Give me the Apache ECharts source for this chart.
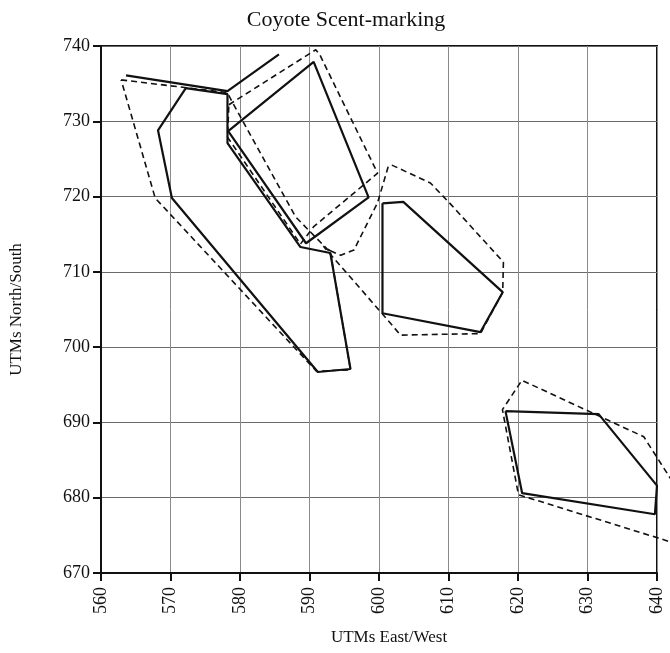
<!DOCTYPE html>
<html>
<head>
<meta charset="utf-8">
<script src="https://cdn.jsdelivr.net/npm/echarts@6/dist/echarts.min.js"></script>
<style>
html,body{margin:0;padding:0;background:#fff;}
#chart{width:670px;height:653px;}
</style>
</head>
<body>
<div id="chart"></div>
<script>
// Axis ticks
const xTicks = [560, 570, 580, 590, 600, 610, 620, 630, 640];
const yTicks = [670, 680, 690, 700, 710, 720, 730, 740];

// Solid home-range outlines (UTM East, UTM North)
const solidTrack = [[563.6,736.1],[578.2,734.0],[585.6,738.9]];
const solidA = [[572.2,734.4],[578.2,733.6],[578.2,727.1],[588.7,713.3],[593.0,712.5],[595.9,697.1],[591.2,696.7],[570.2,719.8],[568.2,728.8],[572.2,734.4]];
const solidB = [[578.3,728.7],[590.6,737.9],[598.5,719.9],[589.5,713.8],[578.3,728.7]];
const solidC = [[600.5,719.1],[603.5,719.3],[617.8,707.3],[614.6,702.0],[600.5,704.5],[600.5,719.1]];
const solidD = [[618.2,691.5],[631.6,691.1],[640.0,681.6],[639.7,677.8],[620.6,680.6],[618.2,691.5]];

// Dashed home-range outlines
const dashA = [[562.9,735.5],[578.2,733.8],[578.8,732.7],[588.0,717.3],[593.0,712.6],[595.9,697.0],[591.0,696.8],[567.8,719.8],[562.9,735.5]];
const dashB = [[578.4,732.2],[590.9,739.5],[591.5,738.8],[599.8,723.1],[590.6,716.0],[588.7,713.7],[578.2,727.9],[578.4,732.2]];
const dashC = [[593.0,712.8],[594.5,712.2],[596.4,712.9],[599.8,719.2],[601.3,723.9],[601.8,724.2],[607.4,721.8],[610.3,719.0],[617.9,711.3],[617.8,707.3],[614.6,701.8],[603.1,701.6],[600.5,704.4],[592.0,713.4],[593.0,712.8]];
// runs past the right edge of the plot (east of 640)
const dashD = [[646.0,676.5],[641.9,682.6],[638.1,688.1],[620.6,695.6],[617.8,691.7],[620.1,680.4],[640.0,674.7],[646.0,672.9]];

const solids = [solidTrack, solidA, solidB, solidC, solidD];
const dashes = [dashA, dashB, dashC];

const serif = '"Liberation Serif", "DejaVu Serif", serif';

// plot geometry: visible grid spans 560..640 over 557 px; an overlay grid extends to the canvas edge
const plotLeft = 100, plotRight = 13, plotW = 670 - plotLeft - plotRight;
const xMaxWide = xTicks[0] + (670 - plotLeft) * (xTicks[xTicks.length - 1] - xTicks[0]) / plotW;

function mk(data, dashed, idx) {
  return {
    type: 'line',
    data: data,
    xAxisIndex: idx || 0,
    yAxisIndex: idx || 0,
    symbol: 'none',
    clip: false,
    animation: false,
    silent: true,
    lineStyle: dashed
      ? { color: '#111', width: 1.6, type: [6, 4] }
      : { color: '#111', width: 2.2, type: 'solid' },
    z: dashed ? 3 : 4
  };
}

const chart = echarts.init(document.getElementById('chart'), null, { renderer: 'canvas' });
chart.setOption({
  backgroundColor: '#fff',
  animation: false,
  title: {
    text: 'Coyote Scent-marking',
    left: 341, top: 4, textAlign: 'center',
    textStyle: { fontFamily: serif, fontWeight: 'normal', fontSize: 22, color: '#111' }
  },
  grid: [
    { left: plotLeft, right: plotRight, top: 46, bottom: 80,
      show: true, borderColor: '#111', borderWidth: 2, backgroundColor: 'transparent' },
    { left: plotLeft, right: 0, top: 46, bottom: 80, show: false }
  ],
  xAxis: [{
    type: 'value', min: xTicks[0], max: xTicks[xTicks.length - 1], interval: 10,
    name: 'UTMs East/West', nameLocation: 'middle', nameGap: 56,
    nameTextStyle: { fontFamily: serif, fontSize: 17, color: '#111', padding: [0, 0, 0, 20] },
    axisLine: { show: true, onZero: false, lineStyle: { color: '#111', width: 2 } },
    axisTick: { show: true, length: 8, lineStyle: { color: '#111', width: 2 } },
    axisLabel: { rotate: 90, margin: 14, fontFamily: serif, fontSize: 18, color: '#111' },
    splitLine: { show: true, lineStyle: { color: '#8a8a8a', width: 1 } }
  }, {
    type: 'value', gridIndex: 1, min: xTicks[0], max: xMaxWide, show: false
  }],
  yAxis: [{
    type: 'value', min: yTicks[0], max: yTicks[yTicks.length - 1], interval: 10,
    name: 'UTMs North/South', nameLocation: 'middle', nameGap: 76, nameRotate: 90,
    nameTextStyle: { fontFamily: serif, fontSize: 17, color: '#111' },
    axisLine: { show: true, onZero: false, lineStyle: { color: '#111', width: 2 } },
    axisTick: { show: true, length: 8, lineStyle: { color: '#111', width: 2 } },
    axisLabel: { margin: 11, fontFamily: serif, fontSize: 18, color: '#111' },
    splitLine: { show: true, lineStyle: { color: '#6a6a6a', width: 1 } }
  }, {
    type: 'value', gridIndex: 1, min: yTicks[0], max: yTicks[yTicks.length - 1], show: false
  }],
  series: dashes.map(d => mk(d, true, 0))
    .concat([mk(dashD, true, 1)])
    .concat(solids.map(s => mk(s, false, 0)))
});
</script>
</body>
</html>
